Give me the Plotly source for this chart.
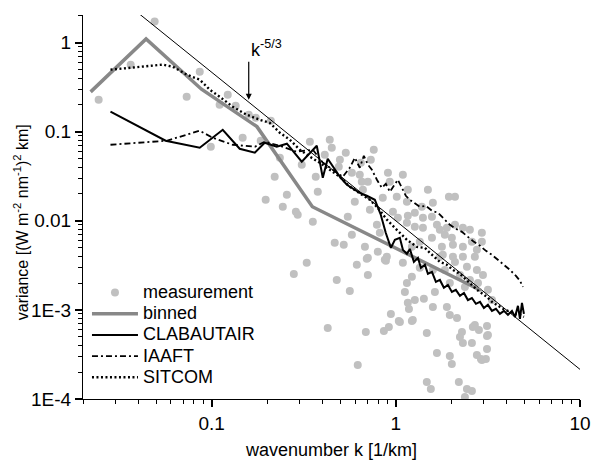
import plotly.graph_objects as go

# ---------------- data ----------------
# measurement scatter, stored as decades (log10 of k [1/km] and log10 of variance)
meas_log10_k = [
    -1.31, -1.614, -1.44, -1.136, -1.065, -0.957, -0.913, -0.870, -0.799, -0.761,
    -0.679, -0.832, -1.005, -0.734, -0.630, -0.658, -0.707, -0.592, -0.614, -0.543,
    -0.467, -0.359, -0.348, -0.386, -0.272, -0.304, -0.511, -0.435, -0.310, -0.120,
    -0.190, -0.136, -0.239, -0.196, -0.185, -0.152, -0.043, -0.033, -0.424, -0.533,
    -0.451, -0.261, -0.223, -0.179, -0.141, -0.071, -0.016, 0.011, 0.060, -0.103,
    -0.239, -0.087, -0.332, -0.283, -0.168, -0.098, -0.152, -0.049, 0.065, 0.005,
    0.038, 0.174, 0.288, 0.321, 0.060, 0.141, 0.201, 0.103, 0.065, 0.147,
    0.196, 0.103, 0.147, 0.223, 0.239, 0.277, 0.321, 0.364, 0.402, 0.266,
    0.304, 0.196, 0.130, 0.087, 0.250, 0.310, 0.364, 0.413, 0.467, 0.467,
    0.440, 0.255, 0.310, 0.364, 0.429, -0.484, -0.554, -0.321, -0.250, -0.212,
    -0.158, -0.054, -0.152, -0.370, -0.207, -0.163, -0.065, -0.038, -0.027, 0.016,
    0.087, 0.071, 0.065, 0.049, 0.060, 0.087, 0.152, 0.201, 0.277, 0.332,
    0.168, 0.223, 0.293, 0.304, 0.348, 0.364, 0.413, 0.418, 0.451, 0.495,
    0.495, 0.495, 0.440, 0.462, 0.489, 0.168, 0.190, 0.342, 0.386, 0.413,
    0.375, 0.092, 0.022, 0.212, 0.103, 0.293, 0.359, 0.429, 0.500, 0.467,
    0.038, 0.239, 0.386, 0.440, 0.473, 0.446, 0.201, 0.130, 0.348, -0.060,
    0.321, 0.402, 0.500, 0.375, 0.293, 0.522, 0.266,
]
meas_log10_var = [
    0.236, -0.64, -0.247, -0.607, -0.326, -0.697, -0.584, -0.708, -0.809, -0.843,
    -0.876, -1.067, -1.169, -1.101, -1.292, -1.506, -1.764, -1.708, -1.843, -1.899,
    -1.112, -1.090, -1.180, -1.258, -1.236, -1.315, -1.371, -1.506, -1.393, -1.202,
    -1.348, -1.315, -1.461, -1.483, -1.562, -1.562, -1.461, -1.562, -1.674, -1.933,
    -2.011, -1.955, -1.787, -1.652, -1.876, -1.742, -1.899, -1.966, -2.022, -2.045,
    -2.157, -2.135, -2.247, -2.270, -2.292, -2.348, -2.416, -2.404, -1.652, -1.730,
    -1.483, -1.652, -1.730, -1.730, -1.787, -1.843, -1.798, -1.910, -1.944, -1.966,
    -1.955, -2.067, -2.079, -2.045, -2.101, -2.079, -2.045, -2.079, -2.101, -2.157,
    -2.191, -2.191, -2.236, -2.292, -2.292, -2.270, -2.292, -2.236, -2.135, -2.236,
    -2.326, -2.382, -2.404, -2.404, -2.404, -2.472, -2.596, -2.663, -2.787, -2.494,
    -2.427, -2.449, -2.607, -3.202, -3.618, -3.247, -3.236, -3.191, -3.045, -3.124,
    -3.124, -2.989, -2.921, -2.798, -2.697, -2.629, -2.876, -2.966, -2.966, -3.090,
    -3.258, -3.483, -3.517, -3.607, -3.303, -3.371, -3.371, -3.191, -3.225, -3.180,
    -3.292, -3.438, -3.506, -3.551, -3.551, -3.809, -3.888, -3.809, -3.888, -3.910,
    -3.978, -3.112, -3.135, -2.798, -2.888, -3.056, -3.247, -3.169, -3.281, -3.562,
    -2.472, -2.404, -2.517, -2.551, -2.607, -2.697, -2.551, -2.528, -2.607, -2.438,
    -2.461, -2.663, -2.775, -2.742, -2.697, -2.888, -2.551,
]

binned_k = [0.022, 0.044, 0.088, 0.176, 0.352, 0.704, 1.41, 2.9]
binned_var = [0.28, 1.1, 0.30, 0.114, 0.0144, 0.0071, 0.0035, 0.00165]

clab_k = [0.0282, 0.0562, 0.0861, 0.1148, 0.1419, 0.1714, 0.194, 0.2255, 0.256, 0.3083,
          0.372, 0.401, 0.4266, 0.4966, 0.542, 0.637, 0.695, 0.769, 0.828, 0.882,
          0.94, 0.988, 1.051, 1.092, 1.148, 1.191, 1.253, 1.318, 1.368, 1.438,
          1.493, 1.57, 1.65, 1.734, 1.823, 1.917, 2.015, 2.118, 2.228, 2.343,
          2.462, 2.588, 2.721, 2.864, 3.007, 3.162, 3.324, 3.494, 3.673, 3.863,
          4.062, 4.27, 4.436, 4.603, 4.72, 4.84, 4.96]
clab_var = [0.168, 0.0792, 0.0661, 0.1052, 0.0644, 0.0581, 0.0752, 0.0678, 0.0733, 0.046,
            0.0696, 0.0304, 0.0498, 0.0312, 0.0254, 0.0206, 0.0191, 0.0172, 0.0117, 0.0073,
            0.00497, 0.00612, 0.00644, 0.00472, 0.00426, 0.00484, 0.00346, 0.00384, 0.00296, 0.00321,
            0.00254, 0.00267, 0.00206, 0.00217, 0.00177, 0.00191, 0.00159, 0.00168, 0.00144, 0.00155,
            0.00129, 0.00136, 0.00117, 0.00123, 0.00105, 0.00114, 0.000975, 0.00103, 0.000902, 0.000975,
            0.000879, 0.000975, 0.000834, 0.00111, 0.000793, 0.0012, 0.000902]

iaaft_k = [0.0282, 0.0569, 0.0861, 0.1012, 0.130, 0.1714, 0.194, 0.2344, 0.2897, 0.354,
           0.401, 0.455, 0.515, 0.562, 0.599, 0.637, 0.67, 0.705, 0.741, 0.789,
           0.839, 0.882, 0.928, 0.975, 1.025, 1.078, 1.133, 1.191, 1.268, 1.35,
           1.456, 1.57, 1.692, 1.823, 1.965, 2.118, 2.284, 2.462, 2.654, 2.864,
           3.086, 3.324, 3.583, 3.863, 4.168, 4.49, 4.72, 4.9]
iaaft_var = [0.0714, 0.0792, 0.1026, 0.0857, 0.0714, 0.0678, 0.0772, 0.0696, 0.0596, 0.0628,
             0.0449, 0.0374, 0.0312, 0.0394, 0.0510, 0.0394, 0.0537, 0.0426, 0.0374, 0.0289,
             0.0235, 0.0260, 0.0212, 0.0247, 0.0289, 0.0235, 0.0191, 0.0172, 0.0159, 0.0144,
             0.0147, 0.0130, 0.0123, 0.0105, 0.00902, 0.00813, 0.00752, 0.00661, 0.00581, 0.00524,
             0.00460, 0.00415, 0.00365, 0.00321, 0.00281, 0.00241, 0.00212, 0.00181]

sitcom_k = [0.0282, 0.0372, 0.0542, 0.0614, 0.0731, 0.0861, 0.0976, 0.1105, 0.130, 0.1549,
            0.1824, 0.2066, 0.2344, 0.2655, 0.3008, 0.341, 0.386, 0.4377, 0.4966, 0.5623,
            0.637, 0.722, 0.798, 0.894, 1.012, 1.148, 1.30, 1.438, 1.53, 1.734,
            1.893, 2.04, 2.228, 2.432, 2.62, 2.754, 2.971, 3.125, 3.324, 3.54,
            3.815, 4.168, 4.436, 4.72, 4.96]
sitcom_var = [0.497, 0.524, 0.566, 0.537, 0.437, 0.384, 0.296, 0.247, 0.191, 0.155,
              0.136, 0.126, 0.0974, 0.0813, 0.0628, 0.0524, 0.0449, 0.0374, 0.0312, 0.0241,
              0.0206, 0.0172, 0.0140, 0.0103, 0.00792, 0.00612, 0.00510, 0.00497, 0.00437, 0.00346,
              0.00321, 0.00281, 0.00254, 0.00217, 0.00186, 0.00168, 0.00151, 0.00140, 0.00123, 0.00114,
              0.00103, 0.000950, 0.000902, 0.000879, 0.000834]

ref_k = [0.04, 10.0]          # k^-5/3 reference line end points
ref_var = [2.14, 2.15e-4]

x_tickvals = [0.1, 1, 10]
x_ticktext = ["0.1", "1", "10"]
y_tickvals = [1e-4, 1e-3, 0.01, 0.1, 1]
y_ticktext = ["1E-4", "1E-3", "0.01", "0.1", "1"]

# ---------------- figure ----------------
FONT = "Liberation Sans, Arial, Helvetica, sans-serif"
meas_k = [10 ** v for v in meas_log10_k]
meas_var = [10 ** v for v in meas_log10_var]

def leg(name):
    return '<span style="font-size:18px">' + name + '</span>'

fig = go.Figure()
fig.add_trace(go.Scatter(x=meas_k, y=meas_var, mode="markers", name=leg("measurement"),
                         marker=dict(size=8, color="rgb(192,192,192)", line=dict(width=0))))
fig.add_trace(go.Scatter(x=ref_k, y=ref_var, mode="lines", showlegend=False,
                         line=dict(color="black", width=1)))
fig.add_trace(go.Scatter(x=binned_k, y=binned_var, mode="lines", name=leg("binned"),
                         line=dict(color="rgb(136,136,136)", width=3.5)))
fig.add_trace(go.Scatter(x=clab_k, y=clab_var, mode="lines", name=leg("CLABAUTAIR"),
                         line=dict(color="black", width=2)))
fig.add_trace(go.Scatter(x=iaaft_k, y=iaaft_var, mode="lines", name=leg("IAAFT"),
                         line=dict(color="black", width=1.8, dash="6px,3px,2px,3px")))
fig.add_trace(go.Scatter(x=sitcom_k, y=sitcom_var, mode="lines", name=leg("SITCOM"),
                         line=dict(color="black", width=2.4, dash="2px,2.5px")))

def minor_vals(lo, hi):
    out = []
    for e in range(lo, hi):
        for m in range(2, 10):
            out.append(m * 10.0 ** e)
    return out

X_RANGE = [-1.699, 1.0]
Y_RANGE = [-4, 0.31]

fig.update_layout(
    template="simple_white",
    xaxis=dict(type="log", range=X_RANGE, tickmode="array",
               tickvals=x_tickvals, ticktext=x_ticktext,
               ticks="outside", ticklen=7, tickwidth=1.6, tickcolor="black",
               showline=True, linecolor="black", linewidth=1, layer="above traces",
               tickfont=dict(size=19, color="black", family=FONT),
               title=dict(text="wavenumber k [1/km]", font=dict(size=18, color="black")),
               minor=dict(ticks="outside", ticklen=4, tickwidth=1.3, tickcolor="black",
                          tickmode="array", tickvals=minor_vals(-2, 1))),
    yaxis=dict(type="log", range=Y_RANGE, tickmode="array",
               tickvals=y_tickvals, ticktext=y_ticktext,
               ticks="outside", ticklen=7, tickwidth=1.6, tickcolor="black",
               showline=True, linecolor="black", linewidth=1, layer="above traces",
               tickfont=dict(size=19, color="black", family=FONT),
               minor=dict(ticks="outside", ticklen=4, tickwidth=1.3, tickcolor="black",
                          tickmode="array", tickvals=minor_vals(-4, 1))),
)

# k^-5/3 label with its arrow (text box sits above-right of the arrow tail)
fig.add_annotation(x=-0.799, y=-0.64, xref="x", yref="y", text="k<sup>-5/3</sup>",
                   showarrow=True, ax=0, ay=-38, xanchor="left", yanchor="bottom",
                   arrowhead=2, arrowsize=1, arrowwidth=1.2, arrowcolor="black",
                   font=dict(size=18, color="black"))
# y-axis title
fig.add_annotation(x=-0.123, y=0.46, xref="paper", yref="paper",
                   text="variance [(W m<sup>-2</sup> nm<sup>-1</sup>)<sup>2</sup> km]",
                   textangle=-90, showarrow=False, font=dict(size=16, color="black"),
                   xanchor="center", yanchor="middle")

fig.update_layout(
    width=591, height=460,
    margin=dict(l=83, r=11, t=15, b=61, autoexpand=False),
    paper_bgcolor="white", plot_bgcolor="white",
    font=dict(family=FONT, size=18, color="black"),
    showlegend=True,
    legend=dict(x=0.008, y=0.318, xanchor="left", yanchor="top", bgcolor="rgba(0,0,0,0)",
                font=dict(size=14, color="black"), tracegroupgap=0, itemwidth=46,
                borderwidth=0),
)

fig.write_html("out.html")
